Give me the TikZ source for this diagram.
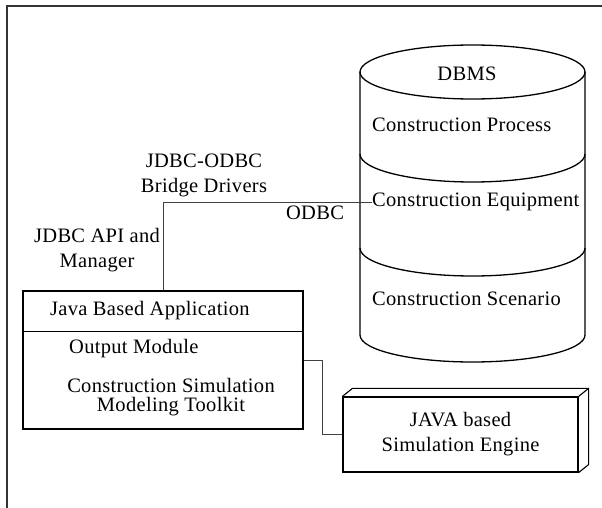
\documentclass[tikz,border=0pt]{standalone}
\usepackage{fontspec}
\setmainfont{Liberation Serif}[LetterSpace=1.5]
\usepackage{tikz}
\usetikzlibrary{positioning}

\begin{document}
\begin{tikzpicture}[x=1pt, y=-1pt,
    every node/.style={font=\fontsize{20.5pt}{25pt}\selectfont},
    txt/.style={inner sep=0pt, align=center},
    dbline/.style={line width=1.3pt},
    block/.style={rectangle, draw, line width=1.2pt, inner sep=0pt},
    link/.style={draw=black!75, line width=0.8pt},
    frame/.style={draw=black!80, line width=2pt}]

    \useasboundingbox (0,0) rectangle (602,508);
    \draw [frame] (7,6) rectangle (640,560);

    \draw [dbline] (472.5,72) ellipse [x radius=112.5pt, y radius=27pt];
    \draw [dbline] (360,72) -- (360,335) arc [start angle=180, end angle=360, x radius=112.5pt, y radius=27pt] -- (585,72);
    \draw [dbline] (360,154) arc [start angle=180, end angle=360, x radius=112.5pt, y radius=28pt];
    \draw [dbline] (360,248) arc [start angle=180, end angle=360, x radius=112.5pt, y radius=28pt];

    \node [txt] (dbms) at (467,74) {DBMS};
    \node [txt, anchor=west] (process) at (372,125) {Construction Process};
    \node [txt, anchor=west] (equip) at (372,202) {Construction Equipment};
    \node [txt, anchor=west] (scenario) at (372,299) {Construction Scenario};

    \node [block, minimum width=280pt, minimum height=138pt] (app) at (163,360) {};
    \draw [line width=1.2pt] ([yshift=-41pt]app.north west) -- ([yshift=-41pt]app.north east);
    \node [txt, anchor=west] (appname) at (50,311) {Java Based Application};
    \node [txt, anchor=west] (output) at (69,349) {Output Module};
    \node [txt, font=\fontsize{20.5pt}{19.5pt}\selectfont] (toolkit) at (171,397) {Construction Simulation\\Modeling Toolkit};

    \node [block, minimum width=235pt, minimum height=75pt, align=center] (engine) at (460.5,434.5) {JAVA based\\Simulation Engine};
    \draw [line width=1.1pt] (engine.north west) -- ++(10,-8) -- ([shift={(10pt,8pt)}]engine.north east) -- ([shift={(10pt,8pt)}]engine.south east) -- (engine.south east);
    \draw [line width=1.1pt] (engine.north east) -- ++(10,-8);

    \node [txt] (bridge) at (204,175) {JDBC-ODBC\\Bridge Drivers};
    \node [txt] (api) at (97,250) {JDBC API and\\Manager};
    \node [txt] (odbc) at (315,213) {ODBC};

    \draw [link] (app.north) |- (equip.west);
    \draw [link] (app.east) -- ++(19,0) |- (engine.west);
\end{tikzpicture}
\end{document}
